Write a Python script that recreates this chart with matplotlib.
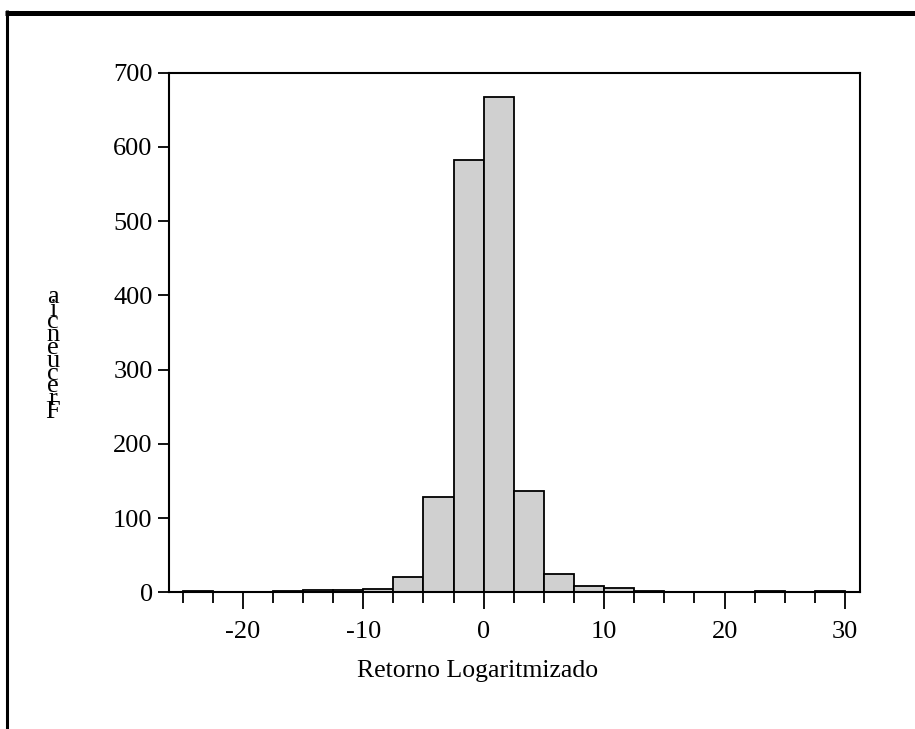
import numpy as np
import matplotlib
matplotlib.use("Agg")
import matplotlib.pyplot as plt
from matplotlib.lines import Line2D
from matplotlib.ticker import MultipleLocator

# histogram data (bins of 2.5 from -25 to 30)
bin_edges = np.arange(-25, 30.01, 2.5)
counts = [2, 0, 0, 2, 3, 3, 4, 20, 129, 583, 667, 137, 24, 9, 6, 2, 0, 0, 0, 2, 0, 2]
x_label = "Retorno Logaritmizado"
y_label = "Frecuencia"

plt.rcParams['font.family'] = ['Liberation Serif', 'DejaVu Serif']
plt.rcParams['axes.unicode_minus'] = False

W, H = 915, 729
fig = plt.figure(figsize=(W / 100, H / 100), dpi=100)
ax = fig.add_axes([169.3 / W, 1 - 592.3 / H, 690.2 / W, 519.6 / H])

ax.bar(bin_edges[:-1], counts, width=2.5, align='edge',
       color='#d0d0d0', edgecolor='black', linewidth=1.3, zorder=2)

ax.set_xlim(-26.1, 31.2)
ax.set_ylim(0, 700)

ax.xaxis.set_major_locator(MultipleLocator(10))
ax.xaxis.set_minor_locator(MultipleLocator(2.5))
ax.yaxis.set_major_locator(MultipleLocator(100))
ax.tick_params(axis='x', which='major', direction='out', length=12.5, width=1.3,
               labelsize=19, pad=8)
ax.tick_params(axis='x', which='minor', direction='out', length=8, width=1.3)
ax.tick_params(axis='y', which='major', direction='out', length=8, width=1.3,
               labelsize=19, pad=4)
for s in ax.spines.values():
    s.set_linewidth(1.5)

ax.set_xlabel(x_label, fontsize=18.5)
ax.xaxis.set_label_coords(0.447, -0.13)

# stacked (overlapping) letters of the y label, as in the original
for i, ch in enumerate(y_label):
    fig.text(53 / W, 1 - (418 - i * 12.8) / H, ch, fontsize=19,
             ha='center', va='baseline')

# partial thick border (top and left)
fig.add_artist(Line2D([5 / W, 1], [1 - 12.5 / H, 1 - 12.5 / H],
                      transform=fig.transFigure, color='black', lw=3.6,
                      solid_capstyle='butt'))
fig.add_artist(Line2D([6.5 / W, 6.5 / W], [0, 1 - 10 / H],
                      transform=fig.transFigure, color='black', lw=2.2,
                      solid_capstyle='butt'))

fig.savefig("out.png", dpi=100)
